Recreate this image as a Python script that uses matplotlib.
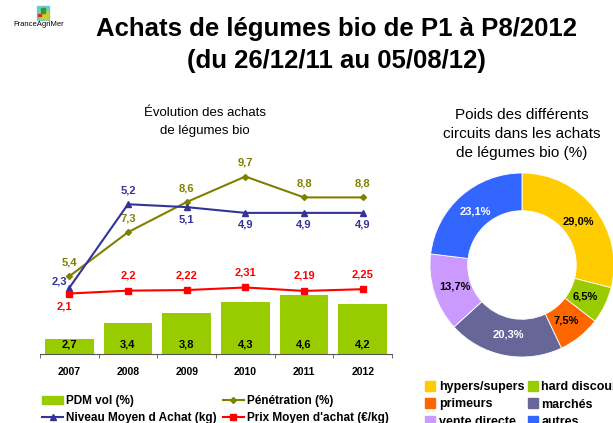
import matplotlib
matplotlib.use('Agg')
from matplotlib import pyplot as plt
from matplotlib.patches import Rectangle, Patch
from matplotlib.lines import Line2D
import numpy as np

plt.rcParams['font.family'] = ['Liberation Sans', 'DejaVu Sans']

years = ['2007', '2008', '2009', '2010', '2011', '2012']
pdm_vol = [2.7, 3.4, 3.8, 4.3, 4.6, 4.2]
penetration = [5.4, 7.3, 8.6, 9.7, 8.8, 8.8]
niveau_achat = [2.3, 5.2, 5.1, 4.9, 4.9, 4.9]
prix_achat = [2.1, 2.2, 2.22, 2.31, 2.19, 2.25]

circuits = ['hypers/supers', 'hard discount', 'primeurs', 'marchés', 'vente directe', 'autres']
parts = [29.0, 6.5, 7.5, 20.3, 13.7, 23.1]
circuit_colors = ['#FFCC00', '#99CC00', '#FF6600', '#666699', '#CC99FF', '#3366FF']
label_colors = ['black', 'black', 'black', 'white', 'black', 'white']

W, H = 613, 423


def fr(v, nd=None):
    s = ('%.*f' % (nd, v)) if nd is not None else ('%g' % v)
    return s.replace('.', ',')


def px_axes(fig, x0, y0, x1, y1):
    # pixel box (top-left origin) -> figure fraction
    return fig.add_axes([x0 / W, 1 - y1 / H, (x1 - x0) / W, (y1 - y0) / H])


fig = plt.figure(figsize=(W / 100, H / 100), dpi=100)

# titles
fig.text(336 / W, 1 - 29 / H, 'Achats de légumes bio de P1 à P8/2012', ha='center', va='center',
         fontsize=18.5, fontweight='bold')
fig.text(336 / W, 1 - 61 / H, '(du 26/12/11 au 05/08/12)', ha='center', va='center',
         fontsize=18.5, fontweight='bold')

# logo
logo = px_axes(fig, 30, 5, 56, 21)
logo.set_xlim(0, 1)
logo.set_ylim(0, 1)
logo.axis('off')
logo.add_patch(Rectangle((0.28, 0.05), 0.45, 0.9, color='#66CCCC'))
logo.add_patch(Rectangle((0.4, 0.15), 0.3, 0.5, color='#CCCC33'))
logo.add_patch(Rectangle((0.42, 0.5), 0.15, 0.3, color='#339933'))
logo.add_patch(Rectangle((0.3, 0.3), 0.12, 0.15, color='#CC3333'))
fig.text(39 / W, 1 - 25 / H, 'FranceAgriMer', ha='center', va='center', fontsize=5.5)

# left chart
fig.text(205 / W, 1 - 122 / H, 'Évolution des achats\nde légumes bio', ha='center', va='center',
         fontsize=9.5, linespacing=1.6)

ax = px_axes(fig, 40, 160, 392, 354)
x = np.arange(len(years))
bars = ax.bar(x, pdm_vol, width=0.83, color='#99CC00', bottom=0)
ax.set_ylim(2.05, 2.05 + 194 / 23.2)
ax.set_xlim(-0.5, 5.5)
for xi, v in zip(x, pdm_vol):
    ax.text(xi, 2.05 + 0.43, fr(v), ha='center', va='center', fontsize=8, fontweight='bold')

ax.plot(x, penetration, color='#808000', marker='D', markersize=3, linewidth=1.5)
for xi, v in zip(x, penetration):
    ax.annotate(fr(v), (xi, v), xytext=(0, 14), textcoords='offset pixels', ha='center', va='center',
                fontsize=8, fontweight='bold', color='#808000')

ax2 = ax.twinx()
ax2.set_ylim(0, 194 / 28.8)
ax2.plot(x, niveau_achat, color='#333399', marker='^', markersize=4, linewidth=1.5)
ax2.plot(x, prix_achat, color='#FF0000', marker='s', markersize=5, linewidth=1.5)
niv_off = [(-10, 6), (0, 14), (0, -12), (0, -12), (0, -12), (0, -12)]
for xi, v, o in zip(x, niveau_achat, niv_off):
    ax2.annotate(fr(v), (xi, v), xytext=o, textcoords='offset pixels', ha='center', va='center',
                 fontsize=8, fontweight='bold', color='#333399')
prix_off = [(-5, -13), (0, 15), (0, 15), (0, 15), (0, 15), (0, 15)]
for xi, v, o in zip(x, prix_achat, prix_off):
    ax2.annotate(fr(v), (xi, v), xytext=o, textcoords='offset pixels', ha='center', va='center',
                 fontsize=8, fontweight='bold', color='#FF0000')

for a in (ax, ax2):
    for s in ('top', 'right', 'left'):
        a.spines[s].set_visible(False)
    a.set_yticks([])
ax.spines['bottom'].set_color('#555555')
ax2.spines['bottom'].set_visible(False)
ax.set_xticks(x)
ax.set_xticklabels(years, fontsize=7.5, fontweight='bold')
ax.tick_params(axis='x', length=0, pad=9)
ax.set_xticks(np.arange(-0.5, 6, 1), minor=True)
ax.tick_params(axis='x', which='minor', length=3, color='#555555')

h_pdm = Patch(color='#99CC00', label='PDM vol (%)')
h_pen = Line2D([], [], color='#808000', marker='D', markersize=3, label='Pénétration (%)')
h_niv = Line2D([], [], color='#333399', marker='^', markersize=4, label='Niveau Moyen d Achat (kg)')
h_prix = Line2D([], [], color='#FF0000', marker='s', markersize=5, label="Prix Moyen d'achat (€/kg)")
fig.legend(handles=[h_pdm, h_niv, h_pen, h_prix], ncol=2, loc='upper left',
           bbox_to_anchor=(36 / W, 1 - 389 / H),
           frameon=False, prop={'size': 8.5, 'weight': 'bold'}, handlelength=1.8, handletextpad=0.25,
           columnspacing=0.5, labelspacing=0.45, borderpad=0)

# donut
fig.text(522 / W, 1 - 134 / H, 'Poids des différents\ncircuits dans les achats\nde légumes bio (%)',
         ha='center', va='center', fontsize=11, linespacing=1.45)
pax = px_axes(fig, 430, 173, 614, 357)
wedges, _ = pax.pie(parts, colors=circuit_colors, startangle=90, counterclock=False, radius=1,
                    wedgeprops=dict(width=0.41, edgecolor='white', linewidth=0.6))
pax.set_xlim(-1, 1)
pax.set_ylim(-1, 1)
for w, v, c in zip(wedges, parts, label_colors):
    ang = np.deg2rad((w.theta1 + w.theta2) / 2)
    pax.text(0.77 * np.cos(ang), 0.77 * np.sin(ang), fr(v, 1) + '%', ha='center', va='center',
             fontsize=8, fontweight='bold', color=c)

ph = [Patch(color=c, label=l) for c, l in zip(circuit_colors, circuits)]
ph = ph[0::2] + ph[1::2]
fig.legend(handles=ph, ncol=2, loc='upper left', bbox_to_anchor=(419 / W, 1 - 375 / H),
           frameon=False, prop={'size': 9, 'weight': 'bold'}, handlelength=0.8, handleheight=0.8,
           handletextpad=0.3, columnspacing=0.25, labelspacing=0.4, borderpad=0)

fig.savefig('out.png', dpi=100)
plt.close('all')
